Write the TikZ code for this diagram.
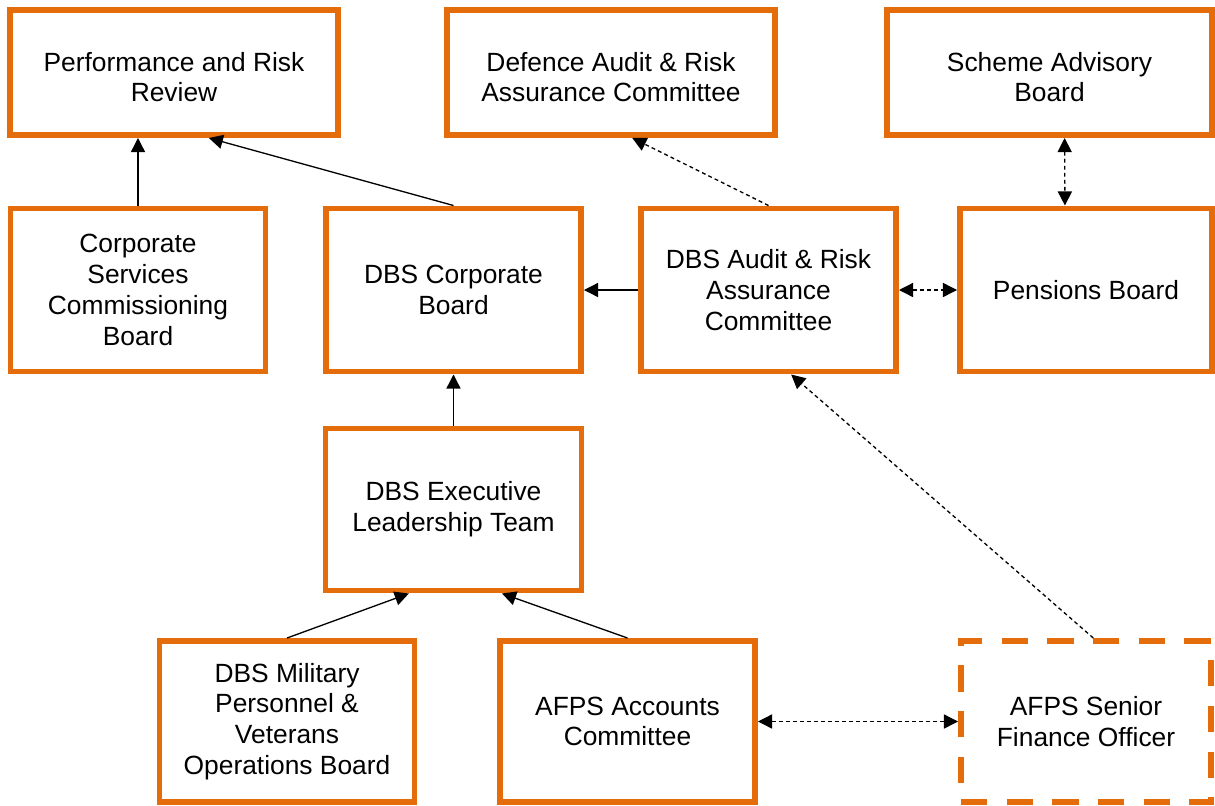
\documentclass[tikz,border=0pt]{standalone}
\usepackage{fontspec}
\setmainfont{Liberation Sans}
\usepackage{tikz}
\usetikzlibrary{shapes, arrows.meta, positioning}
\definecolor{dbsorange}{RGB}{228,108,10}
\tikzstyle{board} = [draw=dbsorange, fill=white, rectangle, line width=3.4pt, align=center, inner sep=0pt, font=\fontsize{15}{17.5}\selectfont, minimum width=5.1cm, minimum height=3.26cm]
\tikzstyle{topboard} = [board, minimum width=6.56cm, minimum height=2.5cm]
\tikzstyle{link} = [->, black, line width=0.75pt]
\tikzstyle{dlink} = [link, dash pattern=on 2.2pt off 1.8pt]
\newcommand{\lowered}[1]{\raisebox{-4.5pt}[\height][\depth]{\begin{tabular}{@{}c@{}}#1\end{tabular}}}

\begin{document}
\begin{tikzpicture}[>={Triangle[length=8pt,width=8pt]}, node distance=6.3cm]
  \useasboundingbox (0,0) rectangle (24.3,-16.1);
  % top row
  \node[topboard] (prr) at (3.48,-1.45) {\lowered{Performance and Risk\\Review}};
  \node[topboard, right of=prr, node distance=8.74cm] (darac) {\lowered{Defence Audit \& Risk\\Assurance Committee}};
  \node[topboard, right of=darac, node distance=8.77cm, minimum width=6.5cm] (sab) {\lowered{Scheme Advisory\\Board}};
  % middle row
  \node[board] (cscb) at (2.76,-5.8) {Corporate\\Services\\Commissioning\\Board};
  \node[board, right of=cscb, node distance=6.31cm] (dbscb) {DBS Corporate\\Board};
  \node[board, right of=dbscb] (darc) {DBS Audit \& Risk\\Assurance\\Committee};
  \node[board, right of=darc, node distance=6.35cm, minimum width=5.04cm] (pb) {Pensions Board};
  \node[board, below of=dbscb, node distance=4.39cm, minimum width=5.12cm, minimum height=3.24cm] (elt) {DBS Executive\\Leadership Team};
  % bottom row
  \node[board, minimum height=3.22cm] (mpvob) at (5.74,-14.43) {DBS Military\\Personnel \&\\Veterans\\Operations Board};
  \node[board, right of=mpvob, node distance=6.81cm, minimum height=3.22cm] (afpsac) {AFPS Accounts\\Committee};
  \node[board, right of=afpsac, node distance=9.17cm, minimum width=5cm, minimum height=3.22cm, dash pattern=on 15pt off 11pt] (sfo) {AFPS Senior\\Finance Officer};
  % reporting lines
  \draw[link] (cscb.north) -- (cscb.north |- prr.south);
  \draw[link] (dbscb.north) -- (prr.-62);
  \draw[link] (darc.west) -- (dbscb.east);
  \draw[link] (elt.north) -- (elt.north |- dbscb.south);
  \draw[link] (mpvob.north) -- (elt.-118);
  \draw[link] (afpsac.north) -- (elt.-60);
  % dotted lines
  \draw[dlink] (darc.north) -- (darac.-72);
  \draw[dlink, <->] (sab.-77) -- (pb.104);
  \draw[dlink, <->] (darc.east) -- (pb.west);
  \draw[dlink, <->] (afpsac.east) -- (sfo.west);
  \draw[dlink] (sfo.85) -- (darc.-75);
\end{tikzpicture}
\end{document}
